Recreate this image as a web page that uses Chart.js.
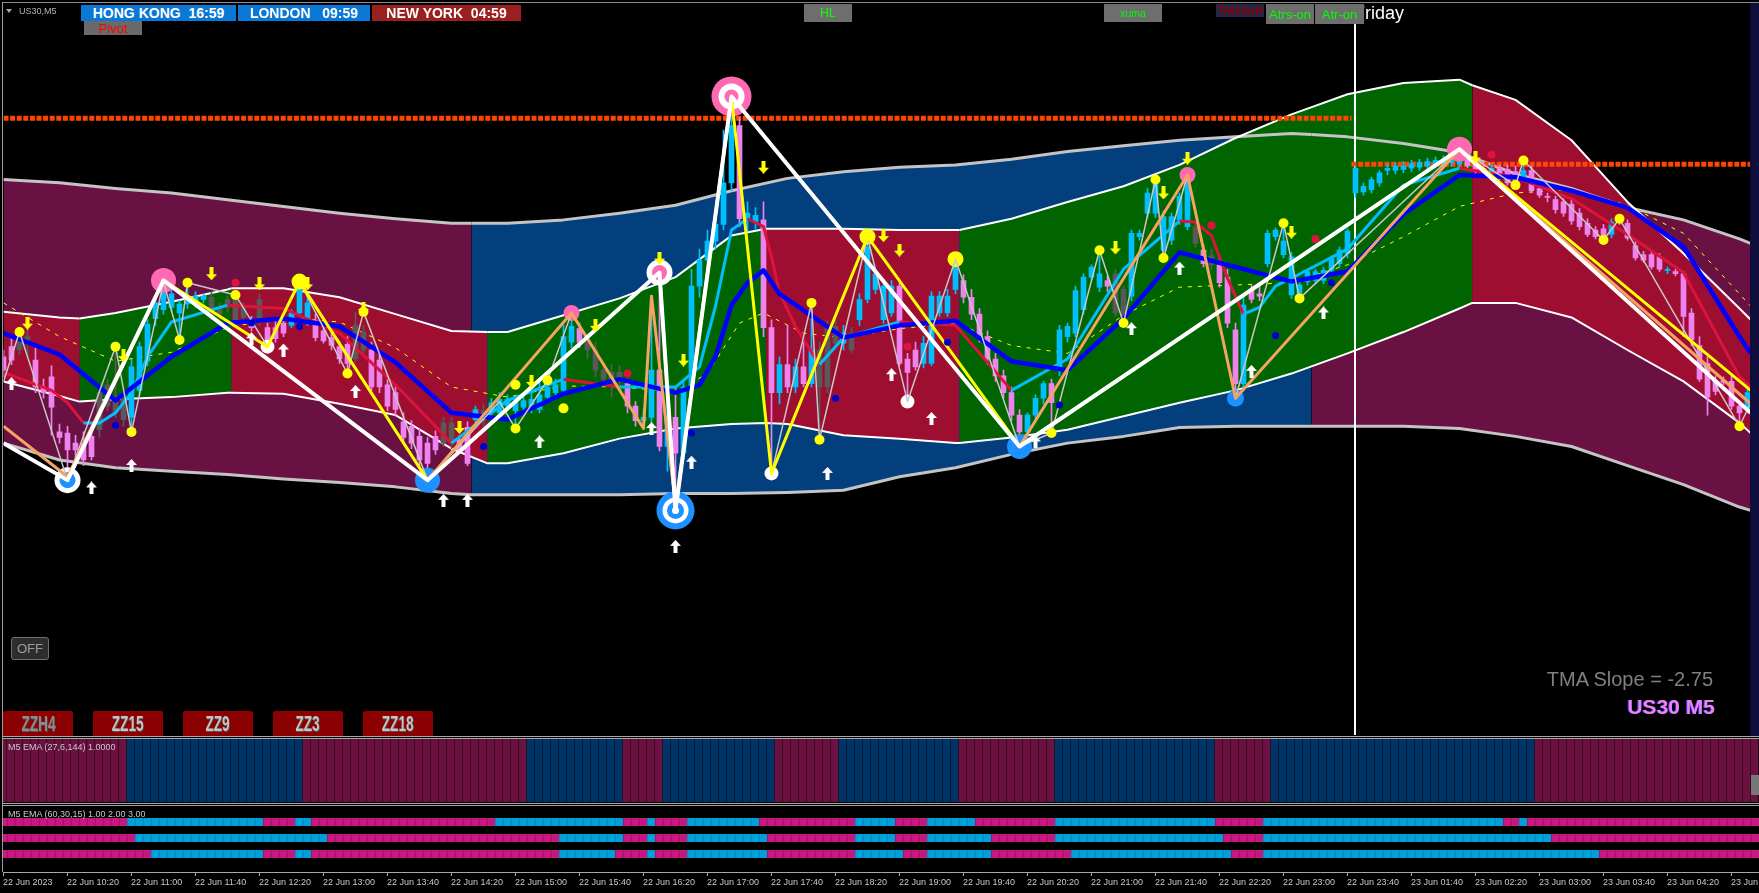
<!DOCTYPE html>
<html>
<head>
<meta charset="utf-8">
<title>US30,M5</title>
<script src="https://cdn.jsdelivr.net/npm/chart.js@4.4.1/dist/chart.umd.min.js"></script>
<style>
  html, body { margin: 0; padding: 0; background: #000; }
  #wrap { position: relative; width: 1759px; height: 893px; background: #000; overflow: hidden;
          font-family: 'Liberation Sans', Arial, sans-serif; }
  #wrap canvas { position: absolute; left: 0; z-index: 1; }
  .rule { position: absolute; z-index: 2; }
  .btn { position: absolute; display: flex; align-items: center; justify-content: center; white-space: pre; z-index: 4; box-sizing: border-box; }
  .city { top: 5px; height: 16px; color: #fff; font-weight: bold; font-size: 14px; }
  .grey { background: #6e6e6e; color: #00ff00; }
  .zz { top: 711px; height: 25px; background: #8b0000; border-radius: 2px 2px 0 0; align-items: flex-start; padding-top: 1px;
        font-family: 'Liberation Sans Narrow', 'Liberation Sans', sans-serif; font-weight: bold; font-size: 22px; line-height: 24px;
        color: #c4c4c4; overflow: hidden; text-shadow: 1px 1px 0 #555; }
  .zz span { display: inline-block; transform: scaleX(0.62); }
  .lbl { position: absolute; z-index: 3; white-space: pre; }
</style>
</head>
<body>
<div id="wrap">
  <canvas id="main" width="1759" height="736" style="top:0"></canvas>
  <canvas id="pane1" width="1759" height="63" style="top:739px"></canvas>
  <canvas id="pane2" width="1759" height="87" style="top:806px"></canvas>

  <div class="rule" style="left:2px;top:2px;width:1757px;height:1px;background:#8c8c8c"></div>
  <div class="rule" style="left:2px;top:2px;width:1px;height:870px;background:#9c9c9c"></div>
  <div class="rule" style="left:2px;top:736px;width:1757px;height:1px;background:#a8a8a8"></div>
  <div class="rule" style="left:2px;top:738px;width:1757px;height:1px;background:#a8a8a8"></div>
  <div class="rule" style="left:2px;top:803px;width:1757px;height:1px;background:#a8a8a8"></div>
  <div class="rule" style="left:2px;top:805px;width:1757px;height:1px;background:#a8a8a8"></div>
  <div class="rule" style="left:1750px;top:3px;width:9px;height:733px;background:#0e0e3c"></div>
  <div class="rule" style="left:1751px;top:775px;width:8px;height:20px;background:#787878"></div>

  <div class="rule" style="left:6px;top:9px;width:0;height:0;border-left:3px solid transparent;border-right:3px solid transparent;border-top:4px solid #a8a8a8"></div>
  <div class="lbl" style="left:19px;top:6px;font-size:9px;color:#b4b4b4">US30,M5</div>

  <div class="btn city" style="left:81px;width:155px;background:#0a78d6">HONG KONG  16:59</div>
  <div class="btn city" style="left:238px;width:132px;background:#0a78d6">LONDON   09:59</div>
  <div class="btn city" style="left:372px;width:149px;background:#9a1f1f">NEW YORK  04:59</div>
  <div class="btn" style="left:84px;top:21px;width:58px;height:14px;background:#6a6a6a;color:#ff0000;font-size:13px">Pivot</div>
  <div class="btn grey" style="left:804px;top:4px;width:48px;height:18px;font-size:12px">HL</div>
  <div class="btn grey" style="left:1104px;top:4px;width:58px;height:18px;font-size:10.5px">xuma</div>
  <div class="btn" style="left:1216px;top:4px;width:48px;height:13px;background:#1b2a4a;color:#8b0000;font-weight:bold;font-size:12px">TM15off</div>
  <div class="btn grey" style="left:1266px;top:4px;width:48px;height:20px;font-size:13px">Atrs-on</div>
  <div class="btn grey" style="left:1315px;top:4px;width:49px;height:20px;font-size:13px">Atr-on</div>
  <div class="lbl" style="left:1354px;top:4px;font-size:18px;line-height:18px;color:#ffffff;z-index:3">Friday</div>

  <div class="btn" style="left:11px;top:637px;width:38px;height:23px;background:#2d2d2d;border:1px solid #707070;border-radius:3px;color:#9a9a9a;font-size:13px">OFF</div>
  <div class="btn zz" style="left:3px;width:70px;color:#8c8c8c"><span>ZZH4</span></div>
  <div class="btn zz" style="left:93px;width:70px"><span>ZZ15</span></div>
  <div class="btn zz" style="left:183px;width:70px"><span>ZZ9</span></div>
  <div class="btn zz" style="left:273px;width:70px"><span>ZZ3</span></div>
  <div class="btn zz" style="left:363px;width:70px"><span>ZZ18</span></div>

  <div class="lbl" style="right:46px;top:669px;font-size:20px;line-height:20px;color:#808080">TMA Slope = -2.75</div>
  <div class="lbl" style="right:44px;top:696px;font-size:21px;line-height:21px;font-weight:bold;color:#ee82ee;text-shadow:-1px 0 0 #3c3cff">US30 M5</div>

  <div class="lbl" style="left:8px;top:742px;font-size:9px;line-height:10px;color:#c8c8c8">M5 EMA (27,6,144) 1.0000</div>
  <div class="lbl" style="left:8px;top:809px;font-size:9px;line-height:10px;color:#c8c8c8">M5 EMA (60,30,15) 1.00 2.00 3.00</div>
</div>

<script>
'use strict';

// ---- price data (index points), bar index on x ----
// candles: [open, high, low, close]
const candles = [
  [682,688,664,670],[691,700,675,679],[688,704,684,700],[700,708,682,695],[679,690,650,655],[655,662,645,650],[664,674,612,637],[615,622,605,610],
  [614,620,572,599],[605,612,590,599],[605,615,585,590],[611,620,590,593],[617,655,610,650],[638,662,634,657],[632,691,628,647],[645,650,620,626],
  [628,680,615,673],[652,695,648,691],[678,715,674,711],[716,735,710,730],[724,749,720,739],[726,742,722,738],[721,732,697,729],[729,748,725,733],
  [730,740,726,736],[733,738,730,736],[735,740,715,718],[720,730,716,726],[726,736,722,733],[715,737,712,735],[726,730,714,717],[714,718,705,708],
  [715,738,710,733],[708,712,691,696],[708,714,695,698],[712,716,700,703],[710,724,708,721],[721,749,718,743],[713,738,710,730],[714,720,696,699],
  [705,710,694,696],[699,704,688,692],[691,696,676,680],[693,700,667,676],[680,722,678,710],[704,710,685,688],[688,695,652,655],[679,684,650,655],
  [657,662,634,638],[650,655,630,635],[624,632,606,610],[620,625,600,605],[611,618,585,590],[605,610,572,587],[611,616,595,599],[605,628,602,623],
  [605,628,600,623],[608,612,596,599],[619,624,585,587],[626,638,622,635],[626,640,620,634],[632,645,628,641],[632,650,628,644],[638,648,634,644],
  [634,646,618,642],[637,648,632,643],[635,650,632,644],[635,661,632,648],[646,662,642,655],[650,662,644,657],[652,710,648,700],[695,721,690,709],
  [707,712,690,695],[695,700,680,688],[688,695,664,670],[670,674,658,662],[662,675,646,668],[668,674,655,660],[658,662,632,638],[638,642,620,625],
  [625,635,618,628],[628,736,622,670],[670,757,598,602],[602,640,580,628],[628,655,545,596],[596,660,590,655],[655,760,650,745],[745,778,735,768],
  [768,795,760,785],[785,810,778,800],[800,884,795,837],[837,914,830,888],[888,895,798,805],[805,820,794,810],[802,815,796,808],[804,820,700,708],
  [708,715,578,650],[650,682,640,675],[675,710,650,655],[655,680,650,673],[673,695,655,658],[658,730,655,688],[688,695,608,655],[655,715,650,709],
  [709,715,690,694],[694,710,688,703],[703,708,685,688],[715,738,710,733],[733,789,730,780],[742,760,738,756],[715,750,712,745],[721,750,718,745],
  [745,750,674,676],[680,685,642,668],[688,695,670,673],[676,700,672,694],[676,740,674,736],[721,740,718,736],[721,742,718,736],[742,770,738,765],
  [750,755,730,735],[735,742,715,720],[720,725,695,700],[700,705,675,680],[680,685,660,665],[665,670,645,650],[650,655,625,630],[630,635,602,615],
  [615,632,610,630],[630,648,626,645],[645,660,640,658],[658,662,614,641],[670,710,665,706],[700,712,695,709],[703,745,700,741],[724,756,720,753],
  [753,764,750,762],[744,777,740,756],[750,754,740,745],[756,760,718,721],[742,745,712,718],[736,795,732,792],[789,795,786,792],[810,832,806,828],
  [810,840,806,837],[777,812,770,807],[786,810,782,807],[804,828,800,825],[798,844,795,837],[798,802,780,783],[777,782,762,765],[772,778,760,764],
  [764,770,744,748],[753,760,708,712],[706,712,645,658],[658,735,652,728],[742,746,730,733],[738,745,732,736],[765,795,762,792],[789,797,786,795],
  [773,801,770,785],[737,775,734,771],[738,750,734,746],[749,760,746,758],[750,760,747,758],[750,762,747,759],[759,772,756,770],[765,780,762,777],
  [774,796,770,794],[828,852,824,850],[829,837,826,834],[831,842,828,840],[837,848,834,846],[848,854,844,850],[848,855,845,852],[849,856,846,852],
  [850,857,847,854],[851,858,848,855],[852,859,849,856],[853,860,850,857],[854,861,851,858],[855,863,852,860],[854,867,850,862],[860,864,848,852],
  [854,858,845,848],[850,855,842,846],[846,854,842,850],[850,853,840,844],[849,853,835,837],[847,852,834,834],[842,857,838,848],[848,852,828,830],
  [832,835,824,826],[825,828,820,824],[822,825,810,813],[820,823,807,810],[818,822,800,803],[810,814,795,798],[801,805,789,791],[795,798,787,789],
  [796,800,786,788],[791,805,788,802],[803,805,800,802],[801,804,786,788],[781,785,768,770],[773,776,766,768],[773,776,760,762],[771,774,758,760],
  [759,762,756,760],[758,760,754,756],[756,758,700,718],[721,725,692,697],[692,700,660,662],[676,682,630,646],[661,665,648,651],[661,664,657,659],
  [660,665,635,638],[638,642,620,632],[635,655,632,650]
];
// bars painted in the neutral grey colour
const greyBars = [2,3,12,13,14,15,26,27,28,29,30,32,44,45,55,56,60,73,74,75,76,77,102,103,104,106,139,140,149,151];

// band lines: [bar, price]
const greyUpper = [[0,840],[7,837],[14,832],[21,828],[28,822],[35,816],[42,810],[49,805],[56,801],[58.5,801],[63,801],[70,804],[77,810],[84,817],[91,830],[98,841],[105,847],[112,851],[119,853],[126,858],[133,865],[140,870],[147,875],[154,878],[161,881],[163.5,880],[168,878],[175,872],[182,864],[189,845],[196,832],[203,815],[210,804],[217,787],[218.4,783]];
const greyLower = [[0,605],[7,590],[14,583],[21,580],[28,577],[35,573],[42,570],[49,566],[56,560],[58.5,559],[63,559],[70,559],[77,559],[84,560],[91,560],[98,561],[105,563],[112,575],[119,583],[126,595],[133,605],[140,611],[147,619],[154,620],[161,620],[163.5,620],[168,620],[175,620],[182,618],[189,611],[196,602],[203,585],[210,568],[217,548],[218.4,545]];
const whiteUpper = [[0,722],[7,717],[9.5,716],[14,721],[21,731],[28,742],[28.5,743],[35,743],[42,735],[49,720],[56,705],[60.5,704],[63,704],[70,719],[77,734],[84,753],[91,790],[95.3,796],[98,796],[105,796],[112,795],[119,795],[119.5,795],[126,805],[133,820],[140,834],[147,853],[154,877],[161,898],[168,916],[175,926],[182,929],[183.6,924],[189,911],[196,875],[203,820],[210,774],[217,725],[218.4,715]];
const whiteLower = [[0,660],[7,647],[9.5,642],[14,644],[21,646],[28,650],[28.5,650],[35,649],[42,640],[49,630],[56,600],[60.5,587],[63,587],[70,596],[77,609],[84,618],[91,622],[95.3,623],[98,622],[105,612],[112,609],[119,605],[119.5,605],[126,610],[133,617],[140,629],[147,641],[154,652],[161,667],[168,685],[175,704],[182,725],[183.6,730],[189,730],[196,717],[203,688],[210,660],[217,623],[218.4,614]];
// band colour zones: [from bar, to bar, zone]
const outerZones = [[-5,58.5,'maroon'],[58.5,163.5,'blue'],[163.5,230,'maroon']];
const innerZones = [[-5,9.5,'crimson'],[9.5,28.5,'green'],[28.5,60.5,'crimson'],[60.5,95.3,'green'],[95.3,119.5,'crimson'],[119.5,183.6,'green'],[183.6,230,'crimson']];

// moving averages
const blueMA = [[0,703],[7,684],[14,643],[21,682],[28,712],[35,716],[42,709],[49,677],[56,632],[63,626],[70,649],[77,662],[84,650],[87,657],[89,682],[91,728],[93,748],[95,759],[97,738],[105,699],[112,710],[119,714],[126,678],[133,670],[140,716],[147,775],[154,762],[161,749],[168,758],[175,809],[182,844],[189,842],[196,830],[203,815],[210,780],[217,700],[218.4,685]];
const fastMA = [[0,668],[6,652],[8,641],[10,623],[12,623],[14,632],[16,650],[18,682],[21,713],[28,728],[35,725],[42,703],[49,657],[56,605],[63,643],[70,662],[77,655],[84,655],[87,673],[89,727],[91,795],[93,805],[95,798],[96,771],[97,739],[99,709],[102,675],[105,699],[112,713],[119,710],[126,652],[133,680],[140,760],[147,803],[149,802],[151,790],[153,752],[155,720],[157,726],[159,745],[161,752],[168,778],[175,835],[182,850],[189,842],[196,823],[203,791],[210,757],[217,664],[218.4,655]];
const slowMA = [[0,730],[7,700],[14,678],[21,686],[28,708],[35,717],[42,713],[49,690],[56,655],[63,646],[70,656],[77,655],[84,651],[88,667],[92,712],[95,721],[100,703],[105,699],[112,707],[119,712],[126,692],[133,685],[140,719],[147,744],[154,746],[161,748],[168,764],[175,789],[182,816],[189,828],[196,831],[203,817],[210,792],[217,738],[218.4,727]];

// zigzags
const whiteZigzag = [[0,605],[8,572],[20,750],[53,572],[82,757],[84,545],[91,914],[127,602],[182,867],[218.4,632]];
const yellowZigzag = [[8,572],[20,750],[33,691],[37,749],[53,572],[82,757],[84,545],[91,914],[96,578],[108,789],[127,602],[182,867],[218.4,652]];
const orangeZigzag = [[0,620],[8,575],[20,750],[53,572],[71,721],[80,618],[81,736],[84,550],[91,914],[127,602],[148,844],[154,645],[182,867],[218.4,640]];
const greyZigzag = [[0,660],[2,704],[8,572],[14,691],[16,615],[20,749],[22,697],[23,748],[29,737],[33,691],[37,749],[43,667],[45,722],[53,572],[62,642],[64,618],[68,661],[71,721],[80,618],[81,736],[84,545],[91,914],[96,578],[101,730],[102,608],[108,789],[113,642],[119,769],[127,602],[131,614],[137,777],[140,712],[144,840],[145,770],[148,844],[154,645],[160,801],[162,734],[182,867],[189,835],[190,857],[200,786],[202,805],[217,620],[218.4,641]];

// horizontal levels: [from bar, to bar, price]
const levels = [[0,168.5,894.5],[168.5,218.4,853.5]];
const daySeparator = [[168.94,978],[168.94,344]];

// markers
const yellowDots = [[2,704],[14,691],[16,615],[22,697],[23,748],[29,737],[43,667],[45,722],[64,657],[64,618],[68,661],[70,636],[101,730],[102,608],[131,614],[137,777],[140,712],[144,840],[145,770],[160,801],[162,734],[189,835],[190,857],[200,786],[202,805],[217,620]];
const blueDots = [[14,621],[31,712],[37,709],[60,602],[86,614],[104,645],[118,695],[132,639],[159,701],[166,748]];
const crimsonDots = [[29,748],[78,667],[113,691],[151,799],[164,787],[186,862]];
const upArrows = [[1,658],[11,565],[16,585],[31,698],[35,688],[44,651],[55,554],[58,554],[67,606],[81,618],[84,513],[86,588],[103,578],[111,666],[116,627],[129,606],[141,707],[147,761],[156,669],[165,721]];
const downArrows = [[3,712],[15,683],[26,756],[32,747],[38,747],[45,725],[57,619],[66,660],[74,710],[82,770],[85,679],[95,851],[110,790],[112,777],[139,779],[145,828],[148,859],[161,793],[184,860]];
const swingMarks = {
  ringHighBig: [[91,914]],
  ringLowBig: [[84,545]],
  ringHigh: [[82,757]],
  ringLow: [[8,572]],
  pinkBig: [[20,750],[182,867]],
  pinkSmall: [[71,721],[148,844]],
  blueBig: [[53,572],[127,602]],
  blueSmall: [[154,645]],
  whiteDot: [[33,691],[96,578],[113,642]],
  yellowBig: [[37,749],[108,789],[119,769]]
};

// lower panes: colour runs [first bar, state]
const trendRuns = [[0,'m'],[16,'b'],[38,'m'],[66,'b'],[78,'m'],[83,'b'],[97,'m'],[105,'b'],[120,'m'],[132,'b'],[152,'m'],[159,'b'],[192,'m']];
const emaRow1 = [[0,'p'],[16,'c'],[33,'p'],[37,'c'],[39,'p'],[62,'c'],[78,'p'],[81,'c'],[82,'p'],[86,'c'],[95,'p'],[107,'c'],[112,'p'],[116,'c'],[122,'p'],[132,'c'],[152,'p'],[158,'c'],[188,'p'],[190,'c'],[191,'p']];
const emaRow2 = [[0,'p'],[17,'c'],[41,'p'],[70,'c'],[78,'p'],[81,'c'],[82,'p'],[86,'c'],[96,'p'],[107,'c'],[112,'p'],[116,'c'],[124,'p'],[132,'c'],[153,'p'],[158,'c'],[194,'p']];
const emaRow3 = [[0,'p'],[19,'c'],[33,'p'],[37,'c'],[39,'p'],[70,'c'],[77,'p'],[81,'c'],[82,'p'],[86,'c'],[96,'p'],[107,'c'],[113,'p'],[116,'c'],[124,'p'],[134,'c'],[154,'p'],[158,'c'],[200,'p']];
const emaLevels = [1, 2, 3];

// time axis
const tickBars = [0,8,16,24,32,40,48,56,64,72,80,88,96,104,112,120,128,136,144,152,160,168,176,184,192,200,208,216];
const tickLabels = ['22 Jun 2023','22 Jun 10:20','22 Jun 11:00','22 Jun 11:40','22 Jun 12:20','22 Jun 13:00','22 Jun 13:40','22 Jun 14:20',
  '22 Jun 15:00','22 Jun 15:40','22 Jun 16:20','22 Jun 17:00','22 Jun 17:40','22 Jun 18:20','22 Jun 19:00','22 Jun 19:40','22 Jun 20:20',
  '22 Jun 21:00','22 Jun 21:40','22 Jun 22:20','22 Jun 23:00','22 Jun 23:40','23 Jun 01:40','23 Jun 02:20','23 Jun 03:00','23 Jun 03:40',
  '23 Jun 04:20','23 Jun 05:00'];

// ---- styles ----
const zoneColor = { maroon: '#6a1143', blue: '#023f7c', green: '#006400', crimson: '#9d0e30' };
const markerLayers = {
  ringHighBig: [['#ff69b4', 20], ['#ffffff', 13], ['#ff69b4', 7]],
  ringLowBig: [['#1e90ff', 19], ['#ffffff', 13], ['#1e90ff', 8.5], ['#ffffff', 3.5]],
  ringHigh: [['#ffffff', 13], ['#ff69b4', 7.5]],
  ringLow: [['#ffffff', 13], ['#1e90ff', 8]],
  pinkBig: [['#ff69b4', 12.5]],
  pinkSmall: [['#ff69b4', 8]],
  blueBig: [['#1e90ff', 12.5]],
  blueSmall: [['#1e90ff', 8.5]],
  whiteDot: [['#ffffff', 7]],
  yellowBig: [['#ffff00', 8]]
};

Chart.defaults.font.family = "'Liberation Sans', Arial, sans-serif";

const xy = pairs => pairs.map(([x, y]) => ({x, y}));
const mid = c => (c.p0.parsed.x + c.p1.parsed.x) / 2;

function zoneAt(zones, x){
  for (const [a, b, name] of zones) if (x >= a && x < b) return zoneColor[name];
  return undefined;
}

function line(pairs, color, width, order, extra){
  return Object.assign({type: 'line', data: xy(pairs), borderColor: color, borderWidth: width, borderJoinStyle: 'round',
    pointRadius: 0, fill: false, order: order}, extra || {});
}

function dots(pairs, color, radius, order){
  return {type: 'line', showLine: false, data: xy(pairs), pointRadius: radius, pointHoverRadius: radius,
    pointBackgroundColor: color, pointBorderWidth: 0, order: order};
}

function arrowImage(color, down){
  const c = document.createElement('canvas');
  c.width = 11; c.height = 13;
  const g = c.getContext('2d');
  g.fillStyle = color;
  g.beginPath();
  [[5.5,0],[11,6],[7.5,6],[7.5,13],[3.5,13],[3.5,6],[0,6]].forEach(([x, y], k) => {
    const yy = down ? 13 - y : y;
    if (k) g.lineTo(x, yy); else g.moveTo(x, yy);
  });
  g.closePath();
  g.fill();
  return c;
}

function expandRuns(runs, n){
  const out = [];
  let r = 0;
  for (let i = 0; i < n; i++){
    while (r + 1 < runs.length && runs[r + 1][0] <= i) r++;
    out.push(runs[r][1]);
  }
  return out;
}

function baseOptions(padding){
  return {
    responsive: false, animation: false, events: [],
    layout: {padding: padding, autoPadding: false},
    plugins: {legend: {display: false}, tooltip: {enabled: false},
      filler: {propagate: false, drawTime: 'beforeDatasetsDraw'}}
  };
}

// bar index axis without the category-style edge offset
function barAxis(max, extra){
  return Object.assign({type: 'linear', min: 0, max: max, bounds: 'data', offset: false, grid: {offset: false}, display: false}, extra || {});
}

// ---- main chart ----
const candleColors = candles.map((c, i) => greyBars.includes(i) ? '#595959' : (c[3] >= c[0] ? '#00bfff' : '#ee82ee'));

const markerSets = [];
for (const [kind, pts] of Object.entries(swingMarks)){
  markerLayers[kind].forEach(([color, r], j) => markerSets.push(dots(pts, color, r, 70 - j)));
}

const mainDatasets = [
  line(greyUpper, '#c4c4c4', 3, 100, {fill: '+1', segment: {backgroundColor: c => zoneAt(outerZones, mid(c))}}),
  line(greyLower, '#c4c4c4', 3, 99),
  line(whiteUpper, '#ffffff', 2, 98, {fill: '+1', segment: {backgroundColor: c => zoneAt(innerZones, mid(c))}}),
  line(whiteLower, '#ffffff', 2, 97),
  line(daySeparator, '#ffffff', 2, 96),
  ...levels.map(([a, b, p]) => line([[a, p], [b, p]], '#ff4500', 5, 95, {borderDash: [5, 1.6], borderJoinStyle: 'miter'})),
  line(slowMA, '#ffff00', 1, 90, {borderDash: [4, 6]}),
  {type: 'bar', data: candles.map((c, i) => ({x: i, y: [c[2], c[1]]})), backgroundColor: candleColors,
    barThickness: 1, grouped: false, borderWidth: 0, order: 82},
  {type: 'bar', data: candles.map((c, i) => ({x: i, y: [c[0], c[3]]})), backgroundColor: candleColors,
    barThickness: 5, minBarLength: 1, grouped: false, borderWidth: 0, order: 81},
  line(fastMA, '#00bfff', 3, 76, {segment: {borderColor: c => c.p1.parsed.y >= c.p0.parsed.y ? '#00bfff' : '#dc143c'}}),
  line(blueMA, '#0000ff', 4.5, 75),
  ...markerSets,
  line(greyZigzag, '#c8c8c8', 1.5, 60),
  line(orangeZigzag, '#f4a460', 3, 55),
  line(yellowZigzag, '#ffff00', 3, 50),
  line(whiteZigzag, '#ffffff', 4, 45),
  dots(blueDots, '#0000cd', 3.5, 40),
  dots(crimsonDots, '#dc143c', 4, 39),
  dots(yellowDots, '#ffff00', 5, 38),
  Object.assign(dots(upArrows, '#ffffff', 6, 10), {pointStyle: arrowImage('#ffffff', false)}),
  Object.assign(dots(downArrows, '#ffff00', 6, 9), {pointStyle: arrowImage('#ffff00', true)})
];

new Chart(document.getElementById('main'), {
  type: 'line',
  data: {datasets: mainDatasets},
  options: Object.assign(baseOptions({left: 3.5, right: 8.5, top: 3, bottom: 1}), {
    scales: {
      x: barAxis(218.375),
      y: {type: 'linear', min: 344.81, max: 997.33, bounds: 'data', display: false}
    }
  })
});

// ---- trend histogram pane ----
const trendColors = expandRuns(trendRuns, 220).map(k => k === 'm' ? '#6a1140' : '#003366');
new Chart(document.getElementById('pane1'), {
  type: 'bar',
  data: {datasets: [{data: trendColors.map((c, i) => ({x: i, y: [0, 1]})), backgroundColor: trendColors,
    barThickness: 7, grouped: false, borderWidth: 0}]},
  options: Object.assign(baseOptions({left: 2.5, right: 0, top: 0, bottom: 0}), {
    scales: {
      x: barAxis(219.5625),
      y: {min: 0, max: 1, display: false}
    }
  })
});

// ---- three-row EMA pane with the time axis ----
const rowFill = {p: '#c8177e', c: '#00a0d8'};
const rowEdge = {p: '#9c0f66', c: '#0084b6'};
const rowDatasets = [emaRow1, emaRow2, emaRow3].map((runs, r) => {
  const states = expandRuns(runs, 220);
  return {data: states.map((s, i) => ({x: i, y: [emaLevels[r] - 0.25, emaLevels[r] + 0.25]})),
    backgroundColor: states.map(s => rowFill[s]), borderColor: states.map(s => rowEdge[s]),
    borderWidth: {left: 1, right: 0, top: 0, bottom: 0}, borderSkipped: false,
    barThickness: 8, grouped: false};
});

new Chart(document.getElementById('pane2'), {
  type: 'bar',
  data: {datasets: rowDatasets},
  options: Object.assign(baseOptions({left: 3, right: 0, top: 0, bottom: 0}), {
    scales: {
      x: barAxis(219.5, {
        display: true,
        afterBuildTicks: s => { s.ticks = tickBars.map(v => ({value: v})); },
        afterFit: s => { s.height = 21; s.paddingLeft = 0; s.paddingRight = 0; },
        ticks: {autoSkip: false, maxRotation: 0, minRotation: 0, align: 'start', padding: 1, color: '#c8c8c8',
          font: {size: 9}, callback: (v, i) => tickLabels[i]},
        grid: {offset: false, drawOnChartArea: false, drawTicks: true, tickLength: 4, color: '#a8a8a8'},
        border: {display: true, color: '#a8a8a8'}
      }),
      y: {reverse: true, min: 0, max: 4.125, display: false}
    }
  })
});
</script>
</body>
</html>
